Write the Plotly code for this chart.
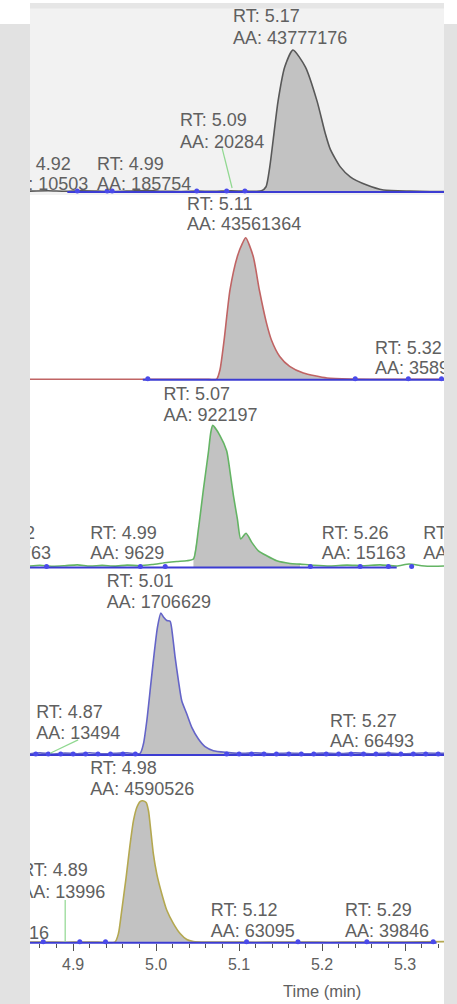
import plotly.graph_objects as go

# ---------------- data ----------------
time_range = [4.848, 5.347]

# panel 1 (top, dark trace)
p1_t = [4.848, 4.87, 4.89, 4.91, 4.93, 4.95, 4.97, 4.99, 5.01, 5.03, 5.05, 5.07, 5.09, 5.11, 5.12,
        5.127, 5.1325, 5.137, 5.142, 5.147, 5.155, 5.165, 5.18, 5.194, 5.204, 5.21, 5.222, 5.234,
        5.254, 5.274, 5.306, 5.33, 5.347]
p1_i = [0.6, 0.9, 0.5, 0.8, 0.6, 0.4, 0.7, 1.0, 0.5, 0.4, 0.6, 0.5, 0.9, 0.6, 0.5,
        0.8, 3.7, 17.7, 41, 64, 88, 100, 88, 64, 41, 30, 17.7, 10.7,
        4.9, 1.4, 0.6, 0.4, 0.3]
p1_rt = ["5.17", "5.09", "4.99", "4.92"]
p1_aa = ["43777176", "20284", "185754", "10503"]
p1_marks = [4.905, 4.941, 4.947, 5.049, 5.085, 5.107]

# panel 2 (red trace)
p2_t = [4.848, 4.88, 4.92, 4.96, 5.0, 5.03, 5.06, 5.073, 5.077, 5.082, 5.089, 5.098, 5.104, 5.108,
        5.117, 5.1245, 5.133, 5.139, 5.149, 5.161, 5.1775, 5.206, 5.234, 5.26, 5.29, 5.32, 5.347]
p2_i = [0.3, 0.3, 0.3, 0.3, 0.3, 0.3, 0.3, 0.4, 7, 28, 63, 87, 96, 100,
        87, 63, 40, 28, 16.4, 9.4, 4.7, 1.2, 0.4, 0.3, 0.3, 0.3, 0.3]
p2_rt = ["5.11", "5.32"]
p2_aa = ["43561364", "35894"]
p2_marks = [4.99, 5.24, 5.304, 5.344]

# panel 3 (green trace)
p3_t = [4.848, 4.86, 4.875, 4.89, 4.905, 4.92, 4.935, 4.95, 4.965, 4.98, 4.995, 5.0129, 5.025,
        5.037, 5.045, 5.051, 5.057, 5.063, 5.0659, 5.0683, 5.0771, 5.0851, 5.0892, 5.0932, 5.098,
        5.102, 5.1084, 5.1153, 5.1233, 5.1333, 5.1454, 5.1614, 5.1735, 5.19, 5.21, 5.23, 5.25,
        5.27, 5.29, 5.305, 5.32, 5.335, 5.347]
p3_i = [1.0, 1.5, 0.8, 1.2, 1.8, 1.0, 1.4, 0.9, 1.6, 1.2, 2.0, 3.5, 4.2,
        4.7, 5.9, 27, 55, 81, 95, 100, 92.7, 82, 67, 50.5, 34,
        20, 24, 17.6, 11.7, 8.2, 4.7, 2.8, 2.3, 1.5, 1.0, 1.6, 1.2,
        1.8, 1.0, 2.4, 1.2, 0.8, 1.0]
p3_rt = ["5.07", "4.92", "4.99", "5.26", "5.33"]
p3_aa = ["922197", "11763", "9629", "15163", "10954"]
p3_marks = [4.868, 4.981, 5.011, 5.186, 5.246, 5.28, 5.308]

# panel 4 (blue trace)
p4_t = [4.848, 4.86, 4.875, 4.89, 4.905, 4.92, 4.935, 4.95, 4.965, 4.9807, 4.9847, 4.9888,
        4.9936, 4.9976, 5.0016, 5.0057, 5.0088, 5.0129, 5.0169, 5.0201, 5.0229, 5.0269, 5.0309,
        5.037, 5.043, 5.051, 5.059, 5.069, 5.0852, 5.1012, 5.12, 5.14, 5.16, 5.18, 5.2, 5.22,
        5.24, 5.26, 5.28, 5.3, 5.32, 5.347]
p4_i = [1.0, 1.6, 0.8, 1.4, 1.0, 1.7, 0.9, 1.3, 1.6, 1.2, 7.8, 24.2,
        50, 71.3, 90, 100, 97.2, 94.8, 94.3, 83, 69, 52.5, 38.3,
        28.9, 19.5, 11.3, 5.9, 3.1, 1.9, 1.2, 1.6, 1.0, 1.5, 0.9, 1.4, 1.1,
        1.6, 1.0, 1.4, 0.9, 1.5, 1.2]
p4_rt = ["5.01", "4.87", "5.27"]
p4_aa = ["1706629", "13494", "66493"]
p4_marks = [4.855, 4.87, 4.885, 4.90, 4.915, 4.93, 4.945, 4.96, 4.975, 5.085, 5.10, 5.115,
            5.13, 5.145, 5.16, 5.175, 5.19, 5.205, 5.22, 5.235, 5.25, 5.265, 5.28, 5.295,
            5.31, 5.325, 5.34]

# panel 5 (olive trace)
p5_t = [4.848, 4.87, 4.89, 4.91, 4.93, 4.9506, 4.9546, 4.9586, 4.9639, 4.9687, 4.9727, 4.9767,
        4.9807, 4.9839, 4.988, 4.9908, 4.9936, 4.9967, 5.0008, 5.0068, 5.0129, 5.0209, 5.0289,
        5.037, 5.045, 5.061, 5.09, 5.12, 5.15, 5.18, 5.21, 5.24, 5.27, 5.3, 5.347]
p5_i = [0.5, 0.6, 0.4, 0.6, 0.5, 0.7, 6.5, 22.9, 46.3, 69.6, 86, 95.3,
        99.5, 100, 98.8, 93, 79, 62.6, 48.6, 34.6, 22.9, 13.5, 6.5,
        2.3, 0.9, 0.5, 0.6, 0.4, 0.5, 0.6, 0.4, 0.5, 0.6, 0.5, 0.8]
p5_rt = ["4.98", "4.89", "4.85", "5.12", "5.29"]
p5_aa = ["4590526", "13996", "110216", "63095", "39846"]
p5_marks = [4.864, 4.908, 4.939, 5.109, 5.171, 5.254, 5.334]

# integrated peak windows and blue baseline extents (min)
peak_windows = [(5.127, 5.306), (5.073, 5.234), (5.045, 5.1735), (4.9807, 5.1012), (4.9506, 5.061)]
baseline_spans = [(4.893, 5.347), (4.984, 5.347), (4.848, 5.29), (4.848, 5.347), (4.848, 5.338)]

# ---------------- layout / style ----------------
W, H = 457, 1004
def fx(px):
    return px / W
def fy(py):
    return 1 - py / H

trace_colors = ["#585858", "#c06464", "#64b464", "#6464c8", "#b4a850"]
PX_PER_UNIT = 1.42
PANEL_H = 187.7
BASE_OFF = 3.0
panel_bottoms = [195 + PANEL_H * k for k in range(5)]
panel_tops = [3.0] + [b - PANEL_H for b in panel_bottoms[1:]]
TEXT_DY = -2.2  # vertical nudge of label lines, panel units

# label placement: (left x in min, RT-line y, AA-line y) in panel units
label_pos = [
    [(5.0928, 125.4, 109.4), (5.0289, 51.9, 36.6), (4.9289, 21.1, 7.0), (4.8168, 21.1, 7.0)],
    [(5.0373, 124.6, 110.6), (5.2639, 23.5, 9.4)],
    [(5.0088, 123.1, 108.6), (4.7735, 25.2, 11.1), (4.9205, 25.2, 11.1), (5.1996, 25.2, 11.1), (5.322, 25.2, 11.1)],
    [(4.9406, 124.1, 109.3), (4.8554, 31.3, 16.8), (5.2096, 25.5, 11.4)],
    [(4.9205, 124.0, 109.2), (4.8373, 52.5, 37.2), (4.7592, 22.4, 7.8), (5.0659, 24.3, 9.5), (5.2277, 24.3, 9.5)],
]
leaders = [
    [((5.0795, 31), (5.0916, 2.8))],
    [],
    [],
    [((4.906, 10.7), (4.8723, 1.3))],
    [((4.8904, 30.1), (4.8904, 0.8))],
]

panels = [
    (p1_t, p1_i, p1_rt, p1_aa, p1_marks),
    (p2_t, p2_i, p2_rt, p2_aa, p2_marks),
    (p3_t, p3_i, p3_rt, p3_aa, p3_marks),
    (p4_t, p4_i, p4_rt, p4_aa, p4_marks),
    (p5_t, p5_i, p5_rt, p5_aa, p5_marks),
]

FONT = "Liberation Sans, Arial, sans-serif"
TXT_COLOR = "#606060"
BLUE = "#3c3cd2"

fig = go.Figure()
for k, (ts, its, rts, aas, marks) in enumerate(panels):
    ya = "y" if k == 0 else f"y{k + 1}"
    common = dict(xaxis="x", yaxis=ya, hoverinfo="skip", showlegend=False)
    s, e = peak_windows[k]
    ft = [t for t in ts if s <= t <= e]
    fi = [v for t, v in zip(ts, its) if s <= t <= e]
    fig.add_trace(go.Scatter(x=ft, y=fi, mode="lines", fill="tozeroy", fillcolor="#c2c2c2",
                             line=dict(width=0, shape="spline", smoothing=0.6), **common))
    fig.add_trace(go.Scatter(x=ts, y=its, mode="lines",
                             line=dict(color=trace_colors[k], width=1.6, shape="spline", smoothing=0.6),
                             **common))
    b0, b1 = baseline_spans[k]
    fig.add_trace(go.Scatter(x=[b0, b1], y=[0, 0], mode="lines",
                             line=dict(color=BLUE, width=2), **common))
    fig.add_trace(go.Scatter(x=marks, y=[0.7] * len(marks), mode="markers",
                             marker=dict(size=5, color="#4a4aea", line=dict(width=0)), **common))
    for (a, b) in leaders[k]:
        fig.add_trace(go.Scatter(x=[a[0], b[0]], y=[a[1], b[1]], mode="lines",
                                 line=dict(color="#90d890", width=1.2), **common))
    lp = label_pos[k]
    fig.add_trace(go.Scatter(x=[p[0] for p in lp], y=[p[1] + TEXT_DY for p in lp], mode="text",
                             text=["RT: " + r for r in rts], textposition="middle right",
                             textfont=dict(family=FONT, size=18, color=TXT_COLOR),
                             cliponaxis=True, **common))
    fig.add_trace(go.Scatter(x=[p[0] for p in lp], y=[p[2] + TEXT_DY for p in lp], mode="text",
                             text=["AA: " + a for a in aas], textposition="middle right",
                             textfont=dict(family=FONT, size=18, color=TXT_COLOR),
                             cliponaxis=True, **common))

layout = dict(
    width=W, height=H, margin=dict(l=0, r=0, t=0, b=0),
    paper_bgcolor="white", plot_bgcolor="rgba(0,0,0,0)", showlegend=False,
    xaxis=dict(domain=[fx(30), fx(444)], range=time_range, anchor="free", position=fy(942.8),
               tickmode="linear", tick0=4.9, dtick=0.1, tickformat=".1f",
               ticks="outside", ticklen=7, tickwidth=1, tickcolor="#505050",
               minor=dict(ticks="outside", tick0=4.9, dtick=0.02, ticklen=4, tickwidth=1, tickcolor="#505050"),
               showgrid=False, zeroline=False, showline=False,
               tickfont=dict(family=FONT, size=16, color=TXT_COLOR)),
)
for k in range(5):
    bot = panel_bottoms[k]
    top = panel_tops[k]
    name = "yaxis" if k == 0 else f"yaxis{k + 1}"
    yr = [-BASE_OFF / PX_PER_UNIT, (bot - top - BASE_OFF) / PX_PER_UNIT]
    layout[name] = dict(domain=[fy(bot), fy(top)], range=yr, visible=False, fixedrange=True)
fig.update_layout(**layout)

shapes = [
    dict(type="rect", xref="paper", yref="paper", x0=fx(0), x1=fx(30), y0=fy(1004), y1=fy(24),
         fillcolor="#e2e2e2", line=dict(width=0), layer="below"),
    dict(type="rect", xref="paper", yref="paper", x0=fx(444), x1=fx(457), y0=fy(1004), y1=fy(24),
         fillcolor="#e2e2e2", line=dict(width=0), layer="below"),
    dict(type="rect", xref="paper", yref="paper", x0=fx(30), x1=fx(444), y0=fy(195), y1=fy(3),
         fillcolor="#f2f2f2", line=dict(width=0), layer="below"),
    dict(type="rect", xref="paper", yref="paper", x0=fx(30), x1=fx(444), y0=fy(8.5), y1=fy(3),
         fillcolor="#e6e6e6", line=dict(width=0), layer="below"),
]
fig.update_layout(shapes=shapes)
fig.add_annotation(text="Time (min)", xref="x", x=5.2, yref="paper", y=fy(991), showarrow=False,
                   xanchor="center", yanchor="middle",
                   font=dict(family=FONT, size=16.5, color=TXT_COLOR))

fig.write_html("out.html")
